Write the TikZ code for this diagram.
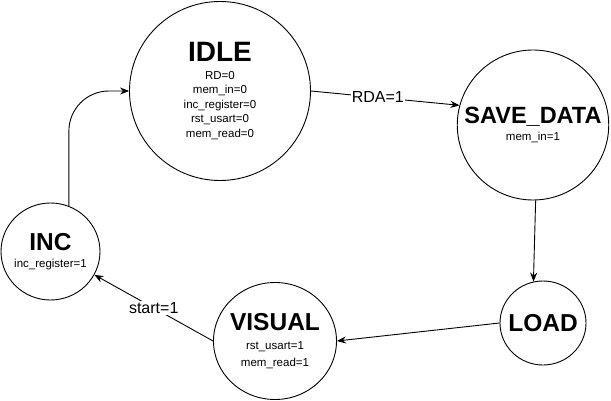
\documentclass[tikz,border=0pt]{standalone}
\usepackage{fontspec}
\setmainfont{Liberation Sans}
\usepackage{tikz}
\usetikzlibrary{shapes.geometric}
\usetikzlibrary{arrows.meta}

\begin{document}
\begin{tikzpicture}[x=1pt,y=-1pt]

          \tikzstyle{stateNode} = [draw, ellipse, line width=0.9pt, inner sep=-15pt, align=center, font=\fontsize{11.5}{14.5}\selectfont];
          \tikzstyle{normalEdge} = [line width=0.9pt, -{Stealth[length=9pt,width=7pt]}];
          \tikzstyle{edgeLabel} = [fill=white, inner sep=1pt, font=\fontsize{16}{18}\selectfont];

          \useasboundingbox (0,0) rectangle (611,401);

          \node[stateNode, minimum width=181pt, minimum height=179pt] (idle) at (220,91)
            {{\fontsize{28}{30}\selectfont\bfseries IDLE}\\[3pt] RD=0\\ mem\_in=0\\ inc\_register=0\\ rst\_usart=0\\ mem\_read=0};
          \node[stateNode, minimum width=146pt, minimum height=150pt] (save) at (533,125)
            {{\fontsize{23.5}{25}\selectfont\bfseries SAVE\_DATA}\\[2pt] mem\_in=1};
          \node[stateNode, minimum width=86pt, minimum height=84pt] (load) at (543,323)
            {{\fontsize{24.5}{26}\selectfont\bfseries LOAD}};
          \node[stateNode, minimum width=123pt, minimum height=117pt] (visual) at (275,341)
            {{\fontsize{24.5}{26}\selectfont\bfseries VISUAL}\\[5pt] rst\_usart=1\\[2.5pt] mem\_read=1};
          \node[stateNode, minimum width=99pt, minimum height=97pt] (inc) at (50.5,251.5)
            {{\fontsize{24.5}{26}\selectfont\bfseries INC}\\[2pt] inc\_register=1};

          \draw[normalEdge] (idle.east) -- node[edgeLabel, pos=0.45] {RDA=1} (save.165);
          \draw[normalEdge] (save.272) -- (load.103);
          \draw[normalEdge] (load.west) -- (visual.east);
          \draw[normalEdge] (visual.west) -- node[edgeLabel] {start=1} (inc.-28);
          \draw[normalEdge, rounded corners=40pt] (inc.68) |- (idle.west);
        \end{tikzpicture}
\end{document}
